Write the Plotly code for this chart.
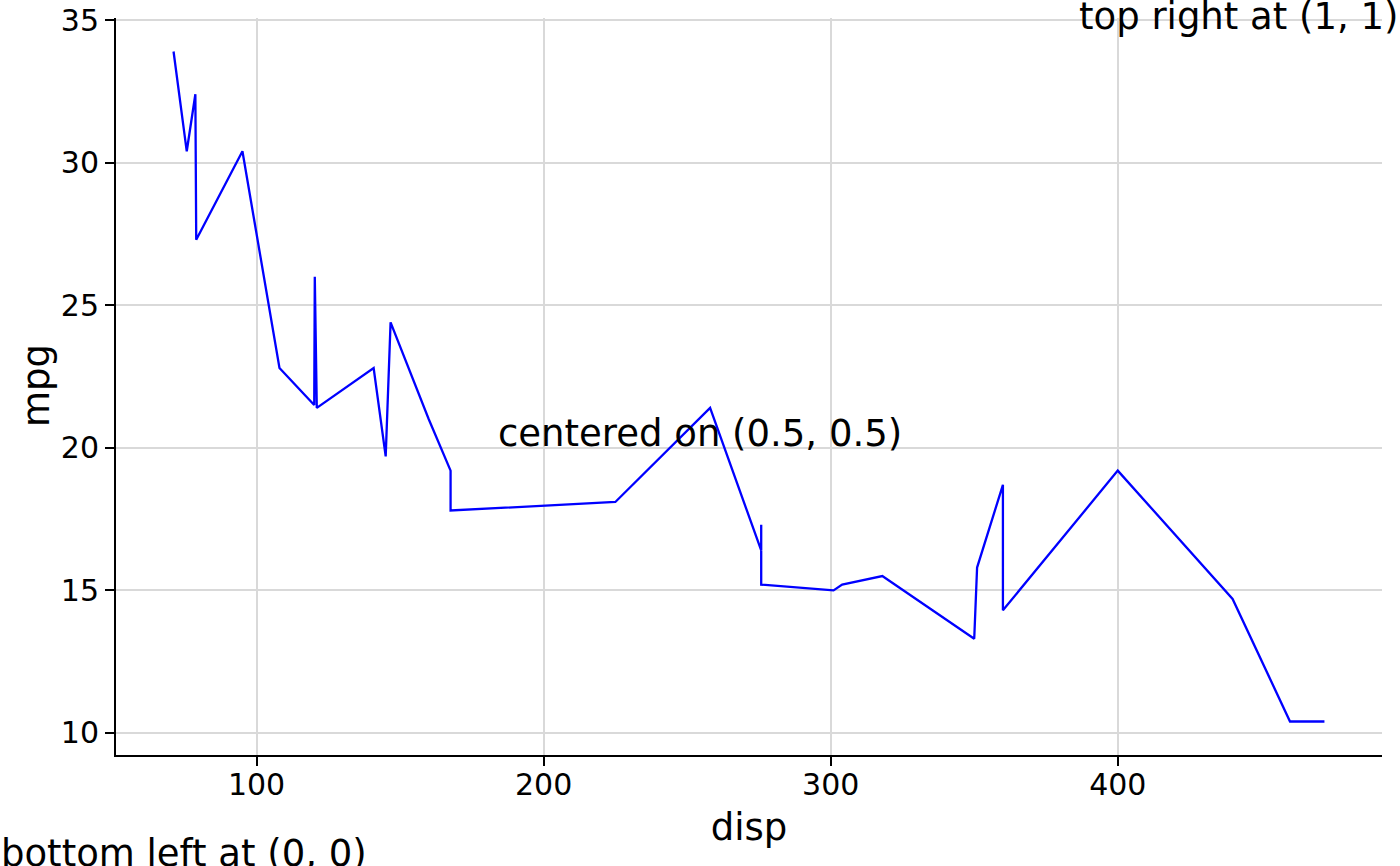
import plotly.graph_objects as go

# mtcars, sorted by displacement
disp = [71.1, 75.7, 78.7, 79.0, 95.1, 108.0, 120.1, 120.3, 121.0, 140.8, 145.0, 146.7,
        160.0, 160.0, 167.6, 167.6, 225.0, 258.0, 275.8, 275.8, 275.8, 301.0, 304.0,
        318.0, 350.0, 351.0, 360.0, 360.0, 400.0, 440.0, 460.0, 472.0]
mpg = [33.9, 30.4, 32.4, 27.3, 30.4, 22.8, 21.5, 26.0, 21.4, 22.8, 19.7, 24.4,
       21.0, 21.0, 19.2, 17.8, 18.1, 21.4, 16.4, 17.3, 15.2, 15.0, 15.2,
       15.5, 13.3, 15.8, 18.7, 14.3, 19.2, 14.7, 10.4, 10.4]
x_ticks = [100, 200, 300, 400]
y_ticks = [10, 15, 20, 25, 30, 35]

W, H = 1400, 866
L, R, T, B = 116, 18, 18, 111
pw, ph = W - L - R, H - T - B


def px_to_paper(px, py):
    return (px - L) / pw, (H - B - py) / ph


font = "DejaVu Sans"
fig = go.Figure()
fig.add_trace(go.Scatter(x=disp, y=mpg, mode="lines",
                         line=dict(color="#0000ff", width=2.3), showlegend=False))

xr = [min(disp) - 0.05 * (max(disp) - min(disp)), max(disp) + 0.05 * (max(disp) - min(disp))]
yr = [min(mpg) - 0.05 * (max(mpg) - min(mpg)), max(mpg) + 0.05 * (max(mpg) - min(mpg))]

axis_common = dict(showline=True, linecolor="black", linewidth=2, ticks="outside",
                   ticklen=9, tickwidth=2, tickcolor="black", showgrid=True,
                   gridcolor="#d9d9d9", gridwidth=2, zeroline=False,
                   tickfont=dict(family=font, size=30, color="black"))

fig.update_xaxes(range=xr, tickvals=x_ticks, ticklabelstandoff=-7,
                 title=dict(text="disp", font=dict(family=font, size=37, color="black"), standoff=13),
                 **axis_common)
fig.update_yaxes(range=yr, tickvals=y_ticks, **axis_common)

ann_font = dict(family=font, size=37, color="black")
mx, my = px_to_paper(37, 386)
fig.add_annotation(text="mpg", x=mx, y=my, xref="paper", yref="paper", textangle=-90,
                   xanchor="center", yanchor="middle", showarrow=False, font=ann_font, borderpad=0)
ax, ay = px_to_paper(1400, -6)
bx, by = px_to_paper(0, 876)
cx, cy = px_to_paper(700, 433)
fig.add_annotation(text="top right at (1, 1)", x=ax, y=ay, xref="paper", yref="paper",
                   xanchor="right", yanchor="top", showarrow=False, font=ann_font, borderpad=0)
fig.add_annotation(text="bottom left at (0, 0)", x=bx, y=by, xref="paper", yref="paper",
                   xanchor="left", yanchor="bottom", showarrow=False, font=ann_font, borderpad=0)
fig.add_annotation(text="centered on (0.5, 0.5)", x=cx, y=cy, xref="paper", yref="paper",
                   xanchor="center", yanchor="middle", showarrow=False, font=ann_font, borderpad=0)

fig.update_layout(width=W, height=H, margin=dict(l=L, r=R, t=T, b=B, autoexpand=False),
                  plot_bgcolor="white", paper_bgcolor="white",
                  font=dict(family=font, color="black"))

fig.write_html("out.html", config={"displayModeBar": False},
               post_script="document.body.style.margin='0';")
